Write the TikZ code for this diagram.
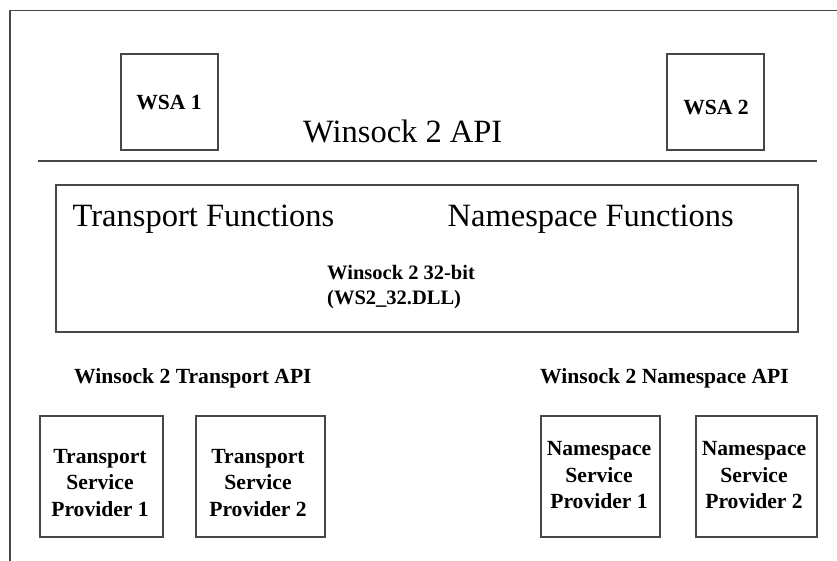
\documentclass[tikz,border=0pt]{standalone}
\usepackage{fontspec}
\setmainfont{Liberation Serif}
\begin{document}
\begin{tikzpicture}[x=1pt,y=-1pt,
  rule/.style={draw=black!72, line width=1.3pt},
  box/.style={rule, rectangle, inner sep=0pt},
  bigtext/.style={inner sep=0pt, font=\fontsize{32.5}{38}\selectfont},
  boldtext/.style={inner sep=0pt, font=\bfseries\fontsize{21.6}{26.5}\selectfont},
  provtext/.style={boldtext, align=center, anchor=north},
]
\useasboundingbox (0,0) rectangle (837,561);

% outer frame (top and left edges only)
\coordinate (frameTL) at (10,10.5);
\coordinate (frameTR) at (837,10.5);
\coordinate (frameBL) at (10,561);
\draw[rule] (frameTR) -- (frameTL) -- (frameBL);

% API separator line
\coordinate (sepL) at (38,161);
\coordinate (sepR) at (817,161);
\draw[rule] (sepL) -- (sepR);

% application boxes
\node[box, minimum width=97pt, minimum height=96pt] (wsa1) at (169.5,102) {};
\node[box, minimum width=97pt, minimum height=96pt] (wsa2) at (715.5,102) {};
\node[boldtext, anchor=base] (wsa1t) at (169,110) {WSA 1};
\node[boldtext, anchor=base] (wsa2t) at (716,115) {WSA 2};

\node[bigtext, anchor=base west] (api) at (303,143) {Winsock 2 API};

% WS2_32.DLL block
\node[box, minimum width=742pt, minimum height=147pt] (dll) at (427,258.5) {};
\node[bigtext, anchor=base west] (tfun) at (72.5,227) {Transport Functions};
\node[bigtext, anchor=base west] (nfun) at (447.5,227) {Namespace Functions};
\node[boldtext, anchor=base west, font=\bfseries\fontsize{20.5}{24}\selectfont] (dll1) at (327,279) {Winsock 2 32-bit};
\node[boldtext, anchor=base west, font=\bfseries\fontsize{20.5}{24}\selectfont] (dll2) at (327,304) {(WS2\_32.DLL)};

% SPI headings
\node[boldtext, anchor=base west] (tapi) at (74,383) {Winsock 2 Transport API};
\node[boldtext, anchor=base west] (napi) at (540,383) {Winsock 2 Namespace API};

% service provider boxes
\node[box, minimum width=123pt, minimum height=121pt] (tsp1) at (101.5,476.5) {};
\node[box, minimum width=129pt, minimum height=121pt] (tsp2) at (260.5,476.5) {};
\node[box, minimum width=119pt, minimum height=121pt] (nsp1) at (600.5,476.5) {};
\node[box, minimum width=121pt, minimum height=121pt] (nsp2) at (756.5,476.5) {};

\node[provtext] (tsp1t) at (100,449) {Transport\\Service\\Provider 1};
\node[provtext] (tsp2t) at (258,449) {Transport\\Service\\Provider 2};
\node[provtext] (nsp1t) at (599,441.5) {Namespace\\Service\\Provider 1};
\node[provtext] (nsp2t) at (754,441.5) {Namespace\\Service\\Provider 2};
\end{tikzpicture}
\end{document}
